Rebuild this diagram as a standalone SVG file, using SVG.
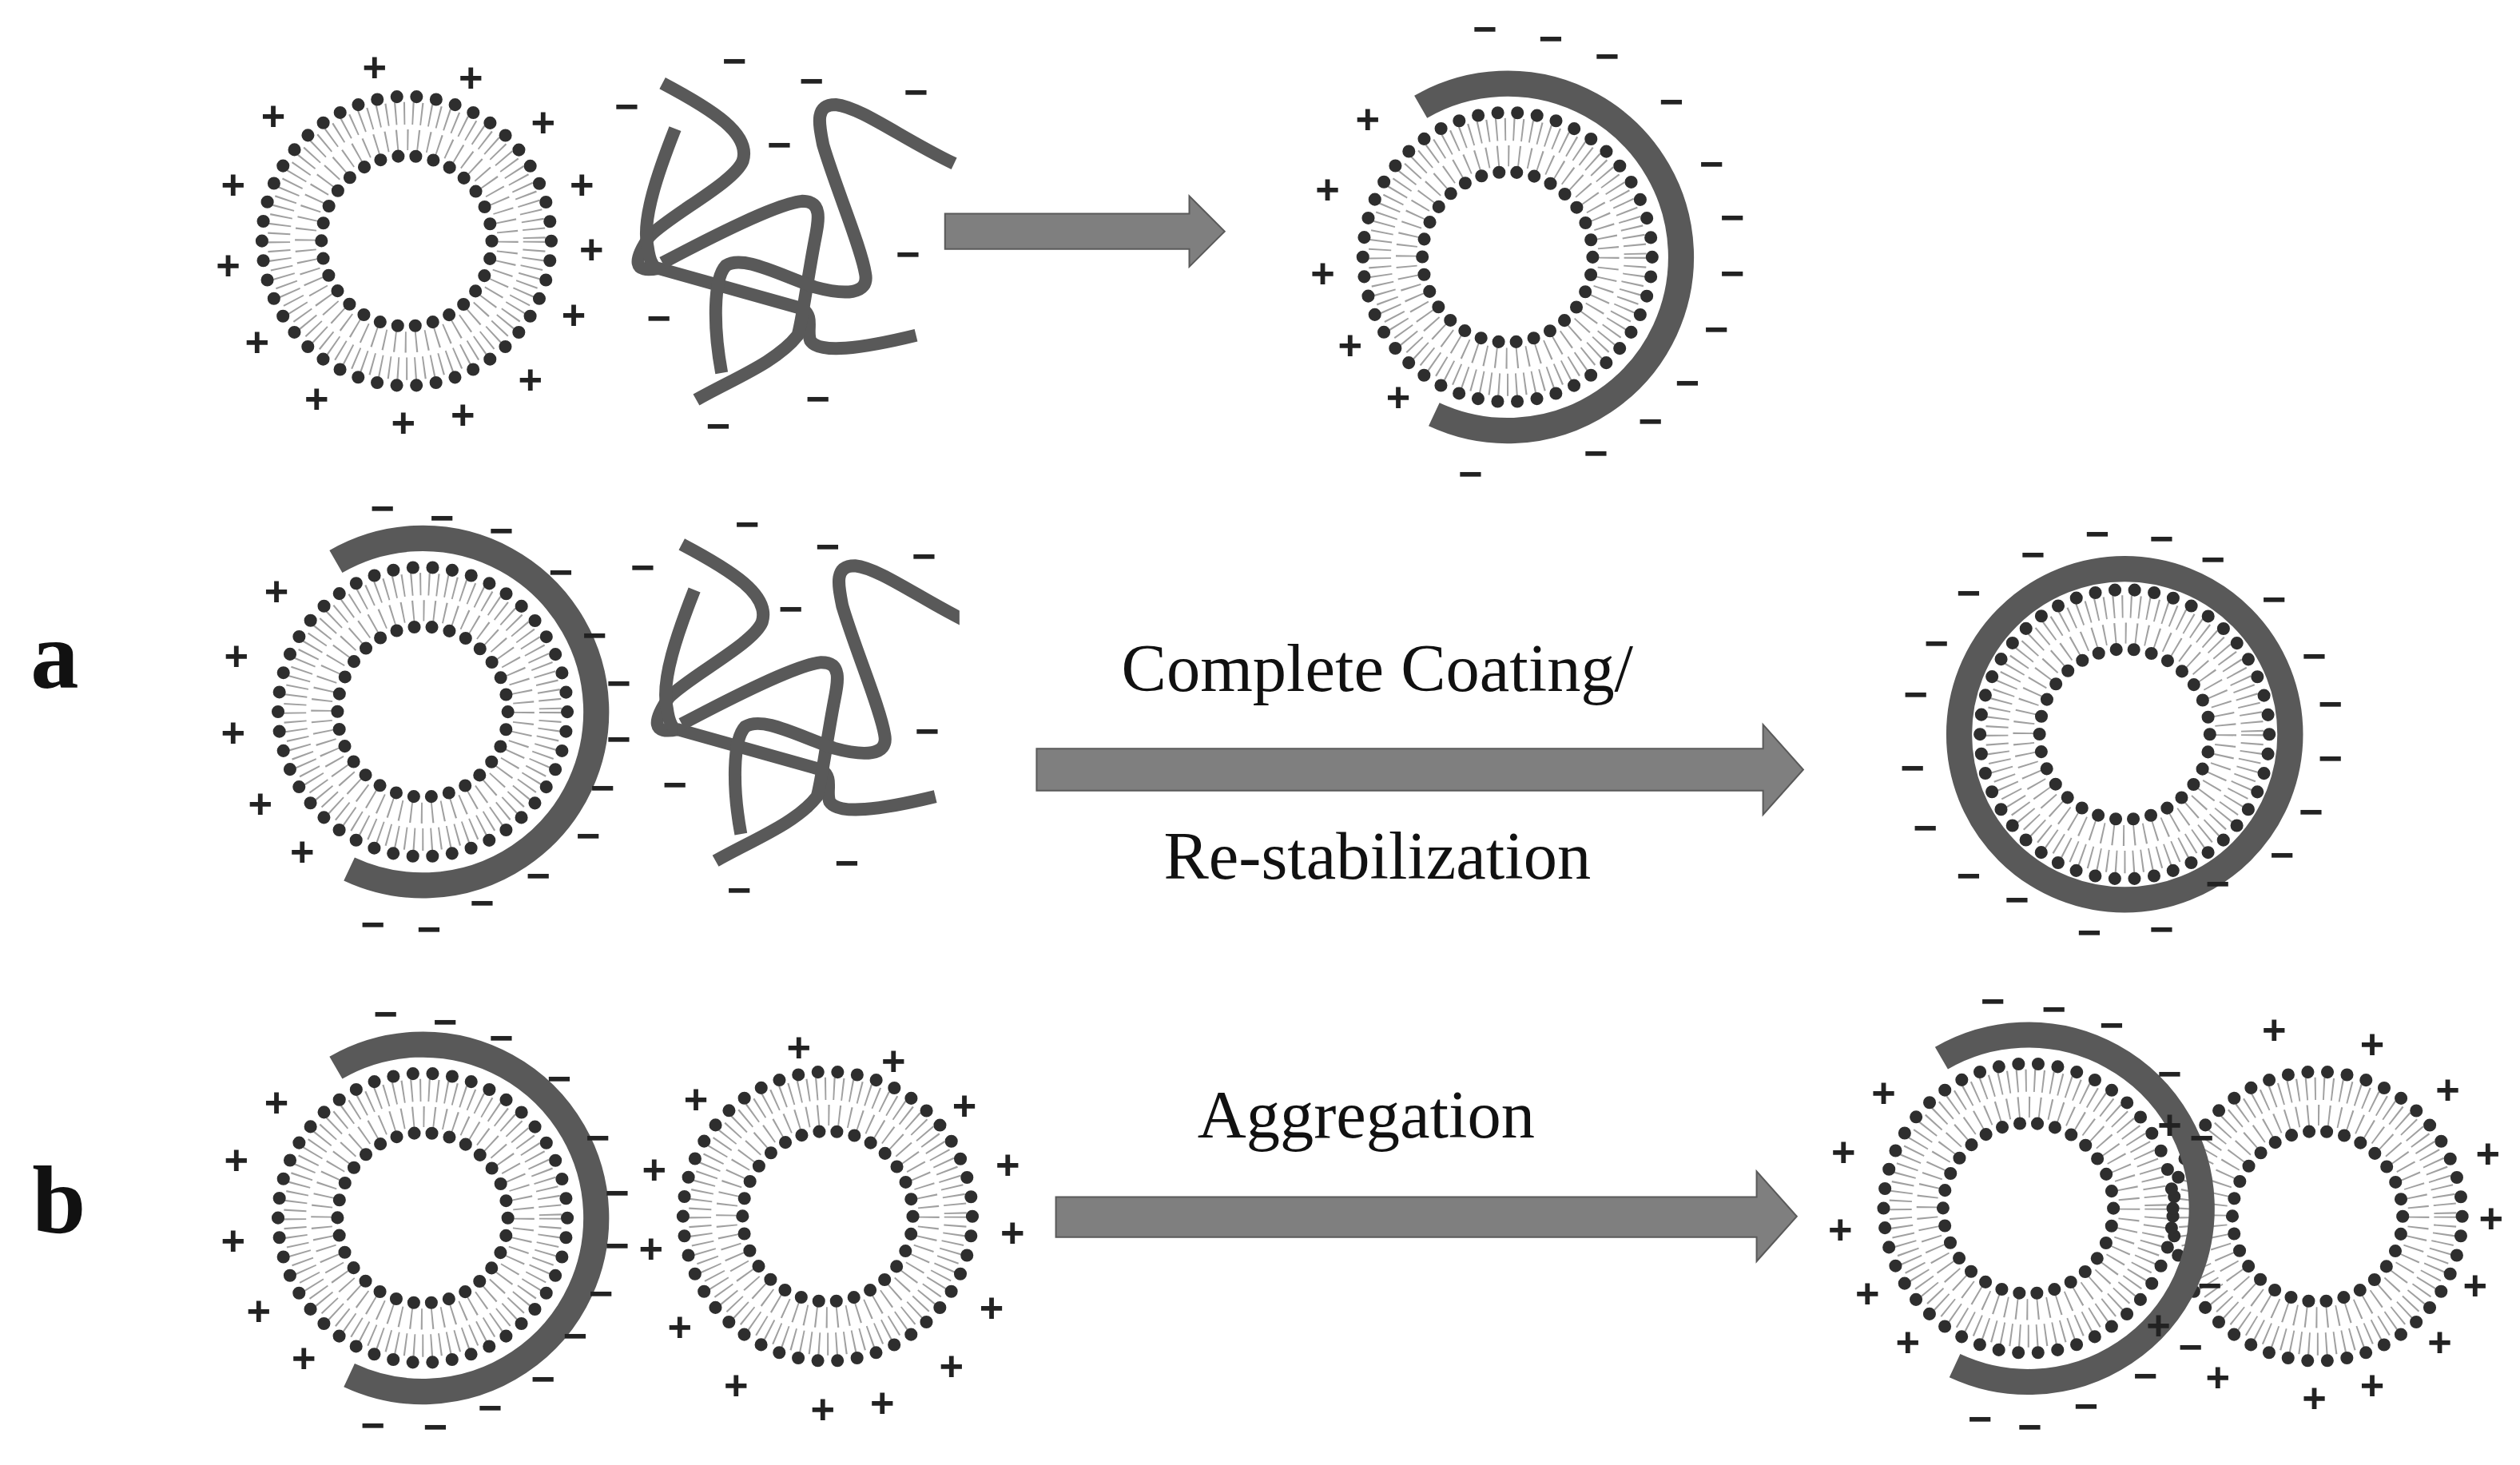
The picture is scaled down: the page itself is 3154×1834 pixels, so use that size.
<svg xmlns="http://www.w3.org/2000/svg" xmlns:xlink="http://www.w3.org/1999/xlink" width="3154" height="1834" viewBox="0 0 3154 1834">
<style>
.hd{fill:none;stroke:#2e2e2e;stroke-linecap:round}
.tl{fill:none;stroke:#a0a0a0}
.coat{fill:none;stroke:#595959;stroke-width:16}
.poly{fill:none;stroke:#595959;stroke-width:16;stroke-linecap:butt;stroke-linejoin:round}
.arrow{fill:#7f7f7f;stroke:#5a5a5a;stroke-width:1}
.ch{font-family:"Liberation Sans",Arial,sans-serif;font-size:26px;font-weight:bold;fill:#222;text-anchor:middle;dominant-baseline:central}
.lbl{font-family:"Liberation Serif","Times New Roman",serif;font-size:42px;fill:#111;text-anchor:middle}
.big{font-family:"Liberation Serif","Times New Roman",serif;font-size:60px;font-weight:bold;fill:#111}
</style>
<defs>
<g id="lipo">
<circle class="tl" r="79.5" stroke-width="14" stroke-dasharray="1 4.4"/>
<circle class="tl" r="63" stroke-width="13" stroke-dasharray="1 5.6"/>
<circle class="hd" r="90" stroke-width="8" stroke-dasharray="0 12.29"/>
<circle class="hd" r="53" stroke-width="8" stroke-dasharray="0 11.1"/>
</g>
<g id="polymer">
<g transform="translate(378,20) scale(0.263,0.167)">
<path class="poly" vector-effect="non-scaling-stroke" d="M130,190 C250,290 340,380 320,480 C300,560 150,680 100,760 C60,850 60,900 120,880 L460,1030 C490,1060 470,1110 480,1150 C500,1200 600,1180 730,1130"/>
<path class="poly" vector-effect="non-scaling-stroke" d="M160,360 C120,520 80,700 95,800 C100,860 110,880 120,880"/>
<path class="poly" vector-effect="non-scaling-stroke" d="M130,860 C250,760 400,640 460,630 C510,630 500,700 490,780 C470,950 460,1080 450,1130 C400,1230 300,1290 210,1370"/>
<path class="poly" vector-effect="non-scaling-stroke" d="M820,490 C700,400 600,280 540,270 C490,270 500,340 510,420 C540,580 600,800 610,900 C620,980 560,980 490,950 C400,900 320,830 280,870 C250,920 250,1100 270,1270"/>
</g>
</g>
<clipPath id="clip2"><rect x="380" y="300" width="217" height="280"/></clipPath>
</defs>
<rect width="3154" height="1834" fill="#fff"/>
<g transform="scale(2.0115)">
<g id="labels">
<text class="big" x="19" y="428">a</text>
<text class="big" x="20" y="767">b</text>
</g>
<g id="connectors">
<polygon class="arrow" points="588,133 740,133 740,122 762,144 740,166 740,155 588,155"/>
<polygon class="arrow" points="645,466 1097,466 1097,451 1122,479 1097,507 1097,492 645,492"/>
<polygon class="arrow" points="657,745 1093,745 1093,729 1118,757 1093,785 1093,770 657,770"/>
<text class="lbl" x="857" y="430">Complete Coating/</text>
<text class="lbl" x="857" y="547">Re-stabilization</text>
<text class="lbl" x="850" y="708">Aggregation</text>
</g>
<g id="row1-liposome">
<use xlink:href="#lipo" transform="translate(253,150)"/>
<g class="ch"><text x="233" y="42">+</text><text x="293" y="48">+</text><text x="170" y="72">+</text><text x="338" y="76">+</text><text x="145" y="115">+</text><text x="362" y="115">+</text><text x="142" y="165">+</text><text x="368" y="155">+</text><text x="160" y="213">+</text><text x="357" y="196">+</text><text x="197" y="248">+</text><text x="330" y="236">+</text><text x="251" y="263">+</text><text x="288" y="258">+</text></g>
</g>
<g id="row1-polymer">
<use xlink:href="#polymer"/>
<g class="ch"><text x="457" y="38">−</text><text x="505" y="50">−</text><text x="570" y="57">−</text><text x="390" y="66">−</text><text x="485" y="90">−</text><text x="565" y="158">−</text><text x="410" y="198">−</text><text x="509" y="248">−</text><text x="447" y="265">−</text></g>
</g>
<g id="row1-coated">
<use xlink:href="#lipo" transform="translate(938,160)"/>
<path class="coat" d="M884,66.5 A108,108 0 1 1 892.3,257.9"/>
<g class="ch"><text x="924" y="18">−</text><text x="965" y="24">−</text><text x="1000" y="35">−</text><text x="1040" y="63">−</text><text x="1065" y="102">−</text><text x="1078" y="135">−</text><text x="1078" y="170">−</text><text x="1068" y="205">−</text><text x="1050" y="238">−</text><text x="1027" y="262">−</text><text x="993" y="282">−</text><text x="915" y="295">−</text><text x="851" y="74">+</text><text x="826" y="118">+</text><text x="823" y="170">+</text><text x="840" y="215">+</text><text x="870" y="247">+</text></g>
</g>
<g id="row2-coated">
<use xlink:href="#lipo" transform="translate(263,443)"/>
<path class="coat" d="M209,349.5 A108,108 0 1 1 217.3,540.9"/>
<g class="ch"><text x="238" y="316">−</text><text x="275" y="322">−</text><text x="312" y="330">−</text><text x="349" y="356">−</text><text x="370" y="395">−</text><text x="385" y="425">−</text><text x="385" y="460">−</text><text x="375" y="490">−</text><text x="366" y="520">−</text><text x="335" y="545">−</text><text x="300" y="562">−</text><text x="267" y="578">−</text><text x="232" y="575">−</text><text x="172" y="368">+</text><text x="147" y="408">+</text><text x="145" y="456">+</text><text x="162" y="500">+</text><text x="188" y="530">+</text></g>
</g>
<g id="row2-polymer">
<g clip-path="url(#clip2)"><use xlink:href="#polymer" transform="translate(12,287)"/></g>
<g class="ch"><text x="400" y="353">−</text><text x="465" y="326">−</text><text x="515" y="340">−</text><text x="575" y="346">−</text><text x="492" y="379">−</text><text x="420" y="488">−</text><text x="577" y="455">−</text><text x="527" y="537">−</text><text x="460" y="554">−</text></g>
</g>
<g id="row2-full">
<use xlink:href="#lipo" transform="translate(1322,457)"/>
<circle class="coat" cx="1322" cy="457" r="103" stroke-width="16"/>
<g class="ch"><text x="1265" y="345">−</text><text x="1305" y="332">−</text><text x="1345" y="335">−</text><text x="1377" y="348">−</text><text x="1225" y="369">−</text><text x="1415" y="373">−</text><text x="1205" y="400">−</text><text x="1440" y="408">−</text><text x="1192" y="432">−</text><text x="1450" y="438">−</text><text x="1190" y="478">−</text><text x="1450" y="472">−</text><text x="1198" y="515">−</text><text x="1438" y="505">−</text><text x="1225" y="545">−</text><text x="1420" y="532">−</text><text x="1255" y="560">−</text><text x="1380" y="550">−</text><text x="1300" y="580">−</text><text x="1345" y="578">−</text></g>
</g>
<g id="row3-coated">
<use xlink:href="#lipo" transform="translate(263,758)"/>
<path class="coat" d="M209,664.5 A108,108 0 1 1 217.3,855.9"/>
<g class="ch"><text x="240" y="631">−</text><text x="277" y="636">−</text><text x="312" y="646">−</text><text x="348" y="671">−</text><text x="372" y="708">−</text><text x="384" y="742">−</text><text x="384" y="775">−</text><text x="374" y="805">−</text><text x="358" y="831">−</text><text x="338" y="858">−</text><text x="305" y="876">−</text><text x="271" y="888">−</text><text x="232" y="887">−</text><text x="172" y="686">+</text><text x="147" y="722">+</text><text x="145" y="772">+</text><text x="161" y="816">+</text><text x="189" y="845">+</text></g>
</g>
<g id="row3-uncoated">
<use xlink:href="#lipo" transform="translate(515,757)"/>
<g class="ch"><text x="497" y="652">+</text><text x="556" y="660">+</text><text x="433" y="684">+</text><text x="600" y="688">+</text><text x="407" y="728">+</text><text x="627" y="725">+</text><text x="405" y="777">+</text><text x="630" y="767">+</text><text x="423" y="826">+</text><text x="617" y="814">+</text><text x="458" y="862">+</text><text x="592" y="850">+</text><text x="512" y="877">+</text><text x="549" y="873">+</text></g>
</g>
<g id="row3-aggregate">
<use xlink:href="#lipo" transform="translate(1442,757)"/>
<use xlink:href="#lipo" transform="translate(1262,752)"/>
<path class="coat" d="M1208,658.5 A108,108 0 1 1 1216.3,849.9"/>
<g class="ch"><text x="1240" y="623">−</text><text x="1278" y="628">−</text><text x="1314" y="638">−</text><text x="1350" y="668">−</text><text x="1370" y="708">−</text><text x="1375" y="800">−</text><text x="1363" y="838">−</text><text x="1335" y="856">−</text><text x="1298" y="875">−</text><text x="1263" y="888">−</text><text x="1232" y="883">−</text><text x="1172" y="680">+</text><text x="1147" y="717">+</text><text x="1145" y="765">+</text><text x="1162" y="805">+</text><text x="1187" y="835">+</text><text x="1415" y="641">+</text><text x="1476" y="650">+</text><text x="1523" y="678">+</text><text x="1548" y="718">+</text><text x="1550" y="758">+</text><text x="1540" y="800">+</text><text x="1518" y="835">+</text><text x="1476" y="862">+</text><text x="1440" y="870">+</text><text x="1380" y="857">+</text><text x="1350" y="700">+</text><text x="1343" y="825">+</text></g>
</g>
</g>
</svg>
